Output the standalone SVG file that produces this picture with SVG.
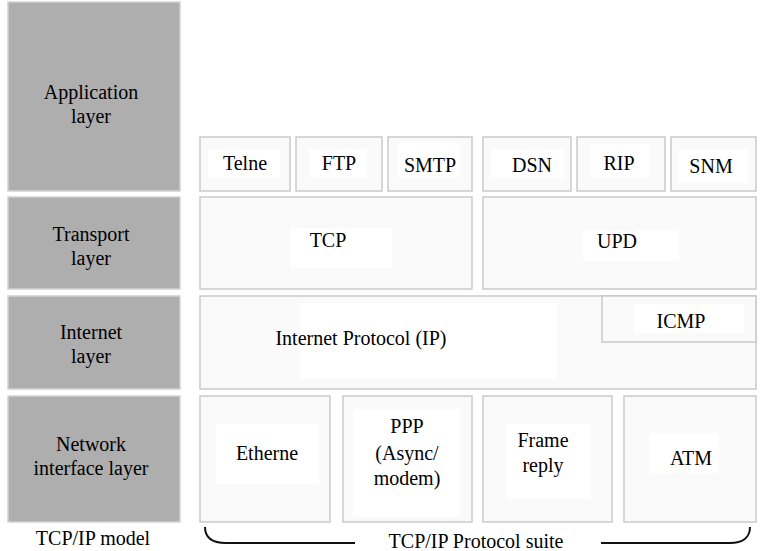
<svg xmlns="http://www.w3.org/2000/svg" width="762" height="551" viewBox="0 0 762 551">
<style>
.layer{fill:#AEAEAE;stroke:#D2D2D2;stroke-width:1.5}
.box{fill:#FAFAFA;stroke:#CACACA;stroke-width:1.5}
.lbg{fill:#FFFFFF;stroke:none}
text{font-family:"Liberation Serif","Times New Roman",serif;font-size:20px;fill:#000;text-anchor:middle}
.brace{fill:none;stroke:#111;stroke-width:2}
</style>
<rect width="762" height="551" fill="#FFFFFF"/>
<g id="app-layer"><rect class="layer" x="8" y="2" width="172" height="189"/><text x="91" y="99">Application</text><text x="91" y="123">layer</text></g>
<g id="transport-layer"><rect class="layer" x="8" y="197" width="172" height="92"/><text x="91" y="241">Transport</text><text x="91" y="265">layer</text></g>
<g id="internet-layer"><rect class="layer" x="8" y="296" width="172" height="93"/><text x="91" y="339">Internet</text><text x="91" y="363">layer</text></g>
<g id="network-layer"><rect class="layer" x="8" y="396" width="172" height="126"/><text x="91" y="451">Network</text><text x="91" y="475">interface layer</text></g>
<g id="model-label"><text x="93" y="545">TCP/IP model</text></g>

<g id="telnet"><rect class="box" x="200" y="137" width="90" height="54"/><rect class="lbg" x="208" y="149" width="72" height="29"/><text x="245" y="170">Telne</text></g>
<g id="ftp"><rect class="box" x="296" y="137" width="86" height="54"/><rect class="lbg" x="309" y="149" width="58" height="29"/><text x="339" y="170">FTP</text></g>
<g id="smtp"><rect class="box" x="388" y="137" width="84" height="54"/><rect class="lbg" x="397" y="143" width="63" height="34"/><text x="430" y="172">SMTP</text></g>
<g id="dsn"><rect class="box" x="483" y="137" width="88" height="54"/><rect class="lbg" x="491" y="149" width="73" height="29"/><text x="532" y="172">DSN</text></g>
<g id="rip"><rect class="box" x="577" y="137" width="88" height="54"/><rect class="lbg" x="591" y="144" width="58" height="34"/><text x="619" y="170">RIP</text></g>
<g id="snm"><rect class="box" x="671" y="137" width="85" height="54"/><rect class="lbg" x="679" y="149" width="69" height="34"/><text x="711" y="173">SNM</text></g>

<g id="tcp"><rect class="box" x="200" y="197" width="272" height="92"/><rect class="lbg" x="290" y="228" width="102" height="40"/><text x="328" y="247">TCP</text></g>
<g id="upd"><rect class="box" x="483" y="197" width="273" height="92"/><rect class="lbg" x="583" y="231" width="96" height="30"/><text x="617" y="248">UPD</text></g>

<g id="ip"><rect class="box" x="200" y="296" width="556" height="93"/><rect class="lbg" x="300" y="303" width="257" height="76"/><text x="361" y="345">Internet Protocol (IP)</text></g>
<g id="icmp"><rect class="box" x="602" y="296" width="154" height="46"/><rect class="lbg" x="634" y="304" width="110" height="29"/><text x="681" y="328">ICMP</text></g>

<g id="ethernet"><rect class="box" x="200" y="396" width="130" height="126"/><rect class="lbg" x="216" y="424" width="103" height="60"/><text x="267" y="460">Etherne</text></g>
<g id="ppp"><rect class="box" x="343" y="396" width="129" height="126"/><rect class="lbg" x="353" y="409" width="107" height="108"/><text x="407" y="433">PPP</text><text x="407" y="460">(Async/</text><text x="407" y="485">modem)</text></g>
<g id="frame"><rect class="box" x="483" y="396" width="129" height="126"/><rect class="lbg" x="506" y="424" width="85" height="75"/><text x="543" y="447">Frame</text><text x="543" y="472">reply</text></g>
<g id="atm"><rect class="box" x="624" y="396" width="132" height="126"/><rect class="lbg" x="649" y="433" width="70" height="40"/><text x="691" y="465">ATM</text></g>

<g id="connectors">
<path class="brace" d="M205,527 C205,538 212,543 226,543 L355,543"/>
<path class="brace" d="M601,543 L730,543 C742,543 750,538 750,527"/>
</g>
<g id="suite-label"><text x="476" y="548">TCP/IP Protocol suite</text></g>
</svg>
